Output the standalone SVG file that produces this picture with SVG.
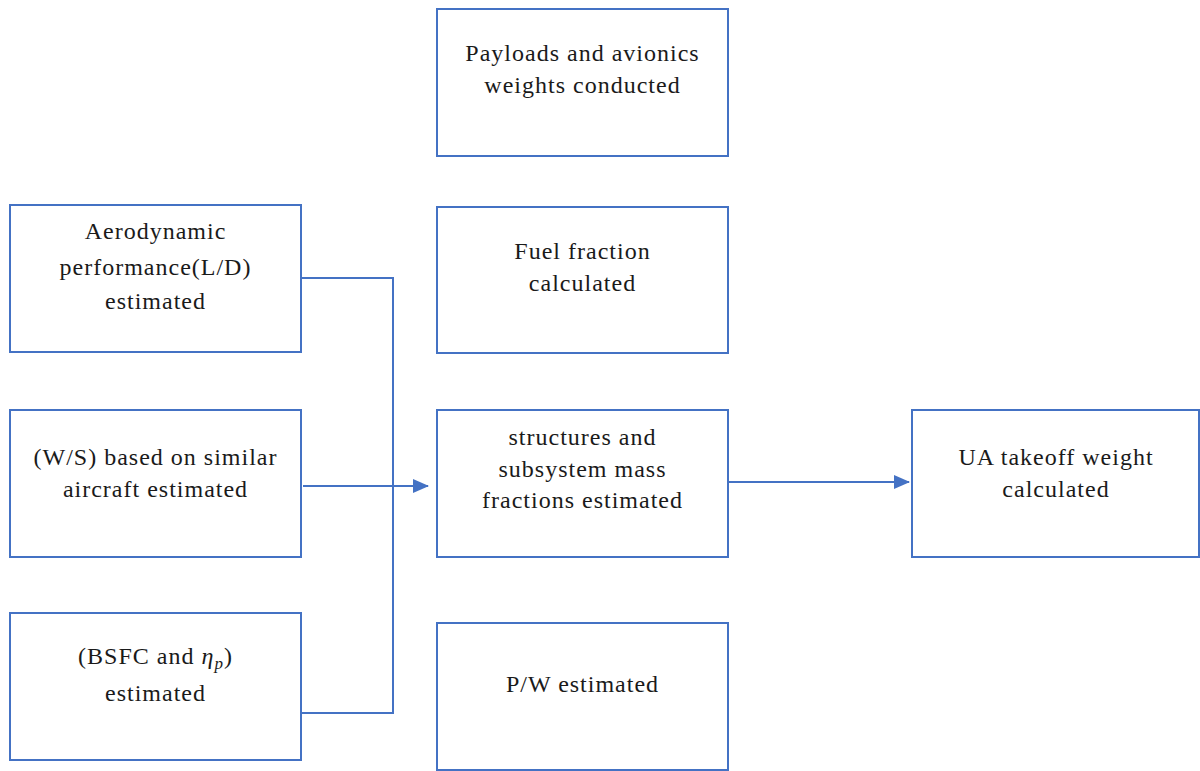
<svg xmlns="http://www.w3.org/2000/svg" width="1200" height="771" viewBox="0 0 1200 771">
<style>
.box{fill:#fff;stroke:#4472C4;stroke-width:2}
.t{font-family:"Liberation Serif","Times New Roman",serif;font-size:24px;letter-spacing:1px;fill:#1a1a1a;text-anchor:middle}
.c{fill:none;stroke:#4472C4;stroke-width:2}
</style>
<defs>
<marker id="ah" markerWidth="16" markerHeight="14" refX="15" refY="7" orient="auto" markerUnits="userSpaceOnUse">
<path d="M0,0 L16,7 L0,14 Z" fill="#4472C4"/>
</marker>
</defs>
<rect width="1200" height="771" fill="#fff"/>
<g id="payloads"><rect class="box" x="437" y="9" width="291" height="147"/>
<text class="t" x="582.5" y="61">Payloads and avionics</text>
<text class="t" x="582.5" y="93">weights conducted</text></g>
<g id="aero"><rect class="box" x="10" y="205" width="291" height="147"/>
<text class="t" x="155.5" y="239">Aerodynamic</text>
<text class="t" x="155.5" y="275">performance(L/D)</text>
<text class="t" x="155.5" y="309">estimated</text></g>
<g id="fuel"><rect class="box" x="437" y="207" width="291" height="146"/>
<text class="t" x="582.5" y="259">Fuel fraction</text>
<text class="t" x="582.5" y="291">calculated</text></g>
<g id="ws"><rect class="box" x="10" y="410" width="291" height="147"/>
<text class="t" x="155.5" y="465">(W/S) based on similar</text>
<text class="t" x="155.5" y="497">aircraft estimated</text></g>
<g id="struct"><rect class="box" x="437" y="410" width="291" height="147"/>
<text class="t" x="582.5" y="445">structures and</text>
<text class="t" x="582.5" y="477">subsystem mass</text>
<text class="t" x="582.5" y="508">fractions estimated</text></g>
<g id="ua"><rect class="box" x="912" y="410" width="287" height="147"/>
<text class="t" x="1056" y="465">UA takeoff weight</text>
<text class="t" x="1056" y="497">calculated</text></g>
<g id="bsfc"><rect class="box" x="10" y="613" width="291" height="147"/>
<text class="t" x="155.5" y="664">(BSFC and <tspan font-style="italic">η</tspan><tspan font-style="italic" font-size="17" dy="5">p</tspan><tspan dy="-5">)</tspan></text>
<text class="t" x="155.5" y="701">estimated</text></g>
<g id="pw"><rect class="box" x="437" y="623" width="291" height="147"/>
<text class="t" x="582.5" y="692">P/W estimated</text></g>
<g id="connectors">
<polyline class="c" points="301,278 393,278 393,713 301,713"/>
<line class="c" x1="303" y1="486" x2="428" y2="486" marker-end="url(#ah)"/>
<line class="c" x1="729" y1="482" x2="909" y2="482" marker-end="url(#ah)"/>
</g>
</svg>
